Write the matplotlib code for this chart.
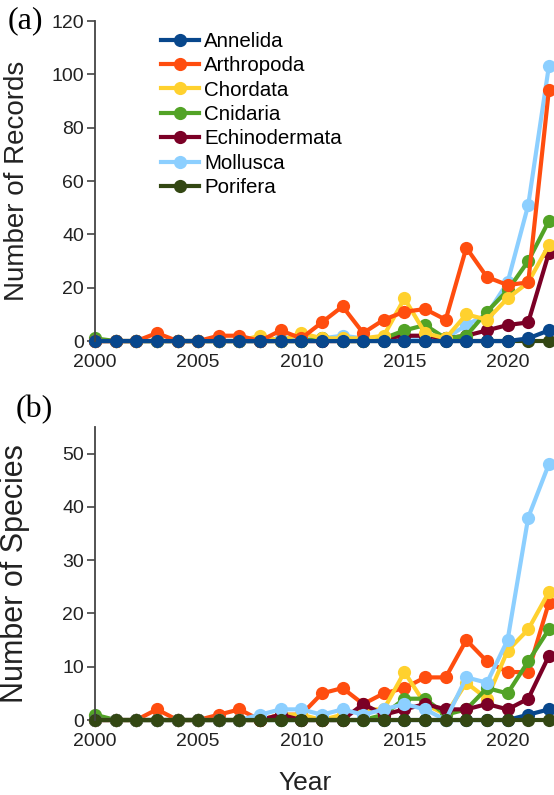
import matplotlib
matplotlib.use("Agg")
from matplotlib import pyplot as plt

years = list(range(2000, 2023))
phyla = ["Annelida", "Arthropoda", "Chordata", "Cnidaria",
         "Echinodermata", "Mollusca", "Porifera"]
colors = ["#08478c", "#ff4d0f", "#ffd12e", "#52a326",
          "#7b0026", "#8ccfff", "#334713"]

# (a) number of records per year, 2000-2022
records_annelida = [0, 0, 0, 0, 0, 0, 0, 0, 0, 0, 0, 0, 0, 0, 0, 0, 0, 0, 0, 0, 0, 1, 4]
records_arthropoda = [0, 0, 0, 3, 0, 0, 2, 2, 0, 4, 1, 7, 13, 3, 8, 11, 12, 8, 35, 24, 21, 22, 94]
records_chordata = [0, 0, 0, 0, 0, 0, 0, 0, 2, 0, 3, 1, 1, 1, 2, 16, 3, 1, 10, 8, 16, 22, 36]
records_cnidaria = [1, 0, 0, 0, 0, 0, 0, 0, 0, 0, 0, 1, 0, 0, 1, 4, 6, 1, 2, 11, 19, 30, 45]
records_echinodermata = [0, 0, 0, 0, 0, 0, 0, 0, 0, 0, 0, 0, 0, 0, 1, 2, 2, 1, 2, 4, 6, 7, 33]
records_mollusca = [0, 0, 0, 0, 0, 0, 0, 0, 0, 1, 1, 1, 2, 1, 1, 2, 1, 1, 6, 10, 22, 51, 103]
records_porifera = [0] * 23

# (b) number of species per year, 2000-2022
species_annelida = [0, 0, 0, 0, 0, 0, 0, 0, 0, 0, 0, 0, 0, 0, 0, 0, 0, 0, 0, 0, 0, 1, 2]
species_arthropoda = [0, 0, 0, 2, 0, 0, 1, 2, 0, 1, 1, 5, 6, 3, 5, 6, 8, 8, 15, 11, 9, 9, 22]
species_chordata = [0, 0, 0, 0, 0, 0, 0, 0, 0, 1, 1, 0, 1, 2, 2, 9, 3, 1, 7, 4, 13, 17, 24]
species_cnidaria = [1, 0, 0, 0, 0, 0, 0, 0, 0, 0, 0, 0, 0, 0, 1, 4, 4, 1, 2, 6, 5, 11, 17]
species_echinodermata = [0, 0, 0, 0, 0, 0, 0, 0, 0, 1, 0, 0, 0, 3, 1, 2, 3, 2, 2, 3, 2, 4, 12]
species_mollusca = [0, 0, 0, 0, 0, 0, 0, 0, 1, 2, 2, 1, 2, 1, 2, 3, 2, 0, 8, 7, 15, 38, 48]
species_porifera = [0] * 23

records = [records_annelida, records_arthropoda, records_chordata, records_cnidaria,
           records_echinodermata, records_mollusca, records_porifera]
species = [species_annelida, species_arthropoda, species_chordata, species_cnidaria,
           species_echinodermata, species_mollusca, species_porifera]

plt.rcParams["font.family"] = ["Liberation Sans", "DejaVu Sans"]

fig = plt.figure(figsize=(5.54, 7.95), dpi=100)
ax_a = fig.add_axes([0.1715, 0.571, 0.8285, 0.4025])
ax_b = fig.add_axes([0.1715, 0.0943, 0.8285, 0.3687])

style = dict(lw=3, marker="o", ms=9.5, mew=0, clip_on=False)

# records: Annelida drawn last so it sits on top
lines = {}
for name, col, vals in reversed(list(zip(phyla, colors, records))):
    lines[name], = ax_a.plot(years, vals, color=col, label=name, **style)

# species: Porifera drawn last
for name, col, vals in zip(phyla, colors, species):
    ax_b.plot(years, vals, color=col, label=name, **style)

for ax, top, step in [(ax_a, 120, 20), (ax_b, 55, 10)]:
    ax.set_xlim(2000, 2022.25)
    ax.set_ylim(0, top)
    ax.set_yticks(range(0, top + 1, step))
    ax.set_xticks([2000, 2005, 2010, 2015, 2020])
    for s in ["top", "right", "bottom"]:
        ax.spines[s].set_visible(False)
    ax.spines["left"].set_color("#444444")
    ax.spines["left"].set_linewidth(1.3)
    ax.tick_params(axis="y", direction="out", length=6, width=1.2,
                   color="#444444", labelsize=14, labelcolor="#222222", pad=2)
    ax.tick_params(axis="x", length=0, labelsize=14, labelcolor="#222222", pad=9)

ax_a.set_ylabel("Number of Records", fontsize=20, color="#222222")
ax_b.set_ylabel("Number of Species", fontsize=22, color="#222222")
ax_a.yaxis.set_label_coords(-0.142, 0.5)
ax_b.yaxis.set_label_coords(-0.142, 0.5)

fig.text(305 / 554, 1 - 783 / 795, "Year", fontsize=19, color="#222222",
         ha="center", va="center")
fig.text(25 / 554, 1 - 21 / 795, "(a)", fontsize=23, family="Liberation Serif",
         ha="center", va="center")
fig.text(34 / 554, 1 - 410 / 795, "(b)", fontsize=23, family="Liberation Serif",
         ha="center", va="center")

ax_a.legend([lines[n] for n in phyla], phyla, loc="upper left",
            bbox_to_anchor=(161 / 554, 1 - 32 / 795), bbox_transform=fig.transFigure,
            frameon=False, fontsize=14.8, handlelength=1.85, handletextpad=0.25,
            labelspacing=0.26, borderpad=0, borderaxespad=0)

fig.savefig("out.png", dpi=100)
